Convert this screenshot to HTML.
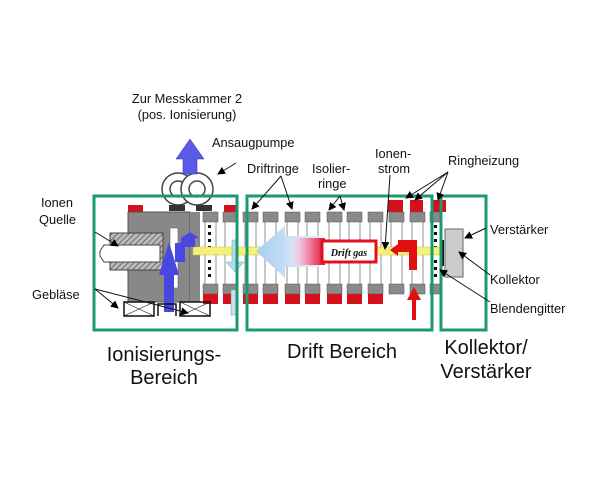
<!DOCTYPE html>
<html><head><meta charset="utf-8"><style>
html,body{margin:0;padding:0;background:#fff}
svg{display:block}
text{font-family:"Liberation Sans",sans-serif;fill:#111}
</style></head><body>
<svg width="605" height="503" viewBox="0 0 605 503" xmlns="http://www.w3.org/2000/svg">
<defs>
<pattern id="h" width="4" height="4" patternUnits="userSpaceOnUse" patternTransform="rotate(45)">
<rect width="4" height="4" fill="#bbb"/><line x1="0" y1="0" x2="0" y2="4" stroke="#555" stroke-width="1.5"/></pattern>
<linearGradient id="rg" x1="0" x2="1"><stop offset="0" stop-color="#fff" stop-opacity="0"/><stop offset="0.5" stop-color="#f2a0c0"/><stop offset="1" stop-color="#e01030"/></linearGradient>
<linearGradient id="bg" x1="0" x2="1"><stop offset="0" stop-color="#a8cdf0"/><stop offset="1" stop-color="#e4f0fb"/></linearGradient>
<marker id="a" markerWidth="8" markerHeight="8" refX="7" refY="4" orient="auto" markerUnits="userSpaceOnUse"><path d="M0,0 L8,4 L0,8 Z" fill="#000"/></marker>
</defs>

<rect x="128" y="205" width="15" height="10" fill="#d4101c"/>
<rect x="224" y="205" width="14" height="10" fill="#d4101c"/>
<rect x="388" y="200" width="15" height="12" fill="#d4101c"/>
<rect x="410" y="200" width="13" height="12" fill="#d4101c"/>
<rect x="433" y="200" width="13" height="12" fill="#d4101c"/>

<rect x="128" y="212" width="62" height="90" fill="#888" stroke="#555"/>
<rect x="190" y="212" width="10" height="90" fill="#888"/>
<rect x="170" y="228" width="8" height="60" fill="#fff" stroke="#555" stroke-width="0.5"/>
<rect x="110" y="233" width="53" height="37" fill="url(#h)" stroke="#444"/>
<path d="M104,245 L160,245 L160,262 L104,262 L100,256 L100,251 Z" fill="#fff" stroke="#444"/>
<circle cx="178" cy="189" r="16" fill="#fff" stroke="#444" stroke-width="1.5"/>
<circle cx="178" cy="189" r="8" fill="none" stroke="#444" stroke-width="1.5"/>
<circle cx="197" cy="189" r="16" fill="#fff" stroke="#444" stroke-width="1.5"/>
<circle cx="197" cy="189" r="8" fill="none" stroke="#444" stroke-width="1.5"/>
<rect x="169" y="205" width="16" height="6" fill="#333"/>
<rect x="196" y="205" width="16" height="6" fill="#333"/>
<path d="M183,174 L183,159 L176,159 L190,139 L204,159 L197,159 L197,174 Z" fill="#5a5ae8" stroke="#3030a0" stroke-width="0.5"/>

<g fill="#8a8a8a" stroke="#555" stroke-width="0.5">
<rect x="203" y="212" width="15" height="10"/><rect x="223" y="212" width="15" height="10"/>
<rect x="243" y="212" width="15" height="10"/><rect x="263" y="212" width="15" height="10"/>
<rect x="285" y="212" width="15" height="10"/><rect x="305" y="212" width="15" height="10"/>
<rect x="327" y="212" width="15" height="10"/><rect x="347" y="212" width="15" height="10"/>
<rect x="368" y="212" width="15" height="10"/><rect x="389" y="212" width="15" height="10"/>
<rect x="410" y="212" width="15" height="10"/><rect x="430" y="212" width="12" height="10"/>
<rect x="203" y="284" width="15" height="10"/><rect x="223" y="284" width="15" height="10"/>
<rect x="243" y="284" width="15" height="10"/><rect x="263" y="284" width="15" height="10"/>
<rect x="285" y="284" width="15" height="10"/><rect x="305" y="284" width="15" height="10"/>
<rect x="327" y="284" width="15" height="10"/><rect x="347" y="284" width="15" height="10"/>
<rect x="368" y="284" width="15" height="10"/><rect x="389" y="284" width="15" height="10"/>
<rect x="410" y="284" width="15" height="10"/><rect x="430" y="284" width="12" height="10"/>
</g>
<g stroke="#777" stroke-width="0.8">
<line x1="205" y1="222" x2="205" y2="284"/><line x1="216" y1="222" x2="216" y2="284"/>
<line x1="225" y1="222" x2="225" y2="284"/><line x1="236" y1="222" x2="236" y2="284"/>
<line x1="245" y1="222" x2="245" y2="284"/><line x1="256" y1="222" x2="256" y2="284"/>
<line x1="265" y1="222" x2="265" y2="284"/><line x1="276" y1="222" x2="276" y2="284"/>
<line x1="287" y1="222" x2="287" y2="284"/><line x1="298" y1="222" x2="298" y2="284"/>
<line x1="307" y1="222" x2="307" y2="284"/><line x1="318" y1="222" x2="318" y2="284"/>
<line x1="329" y1="222" x2="329" y2="284"/><line x1="340" y1="222" x2="340" y2="284"/>
<line x1="349" y1="222" x2="349" y2="284"/><line x1="360" y1="222" x2="360" y2="284"/>
<line x1="370" y1="222" x2="370" y2="284"/><line x1="381" y1="222" x2="381" y2="284"/>
<line x1="391" y1="222" x2="391" y2="284"/><line x1="402" y1="222" x2="402" y2="284"/>
<line x1="412" y1="222" x2="412" y2="284"/><line x1="423" y1="222" x2="423" y2="284"/>
</g>
<g fill="#d4101c">
<rect x="203" y="294" width="15" height="10"/><rect x="223" y="294" width="15" height="10"/>
<rect x="243" y="294" width="15" height="10"/><rect x="263" y="294" width="15" height="10"/>
<rect x="285" y="294" width="15" height="10"/><rect x="305" y="294" width="15" height="10"/>
<rect x="327" y="294" width="15" height="10"/><rect x="347" y="294" width="15" height="10"/>
<rect x="368" y="294" width="15" height="10"/>
</g>
<g fill="#111">
<rect x="208" y="225" width="3" height="3"/><rect x="208" y="232" width="3" height="3"/><rect x="208" y="239" width="3" height="3"/><rect x="208" y="246" width="3" height="3"/><rect x="208" y="260" width="3" height="3"/><rect x="208" y="267" width="3" height="3"/><rect x="208" y="274" width="3" height="3"/>
<rect x="434" y="225" width="3" height="3"/><rect x="434" y="232" width="3" height="3"/><rect x="434" y="239" width="3" height="3"/><rect x="434" y="246" width="3" height="3"/><rect x="434" y="260" width="3" height="3"/><rect x="434" y="267" width="3" height="3"/><rect x="434" y="274" width="3" height="3"/>
</g>
<rect x="193" y="247" width="250" height="8" fill="#f4f07a" stroke="#c8c040" stroke-width="0.5"/>
<path d="M320,236 L285,236 L285,226 L256,251 L285,278 L285,267 L320,267 Z" fill="url(#bg)"/>
<rect x="285" y="238" width="40" height="27" fill="url(#rg)"/>
<rect x="322" y="241" width="54" height="21" fill="#fff" stroke="#e01020" stroke-width="3"/>
<text x="349" y="256" font-size="10" font-style="italic" font-weight="bold" text-anchor="middle" style="font-family:'Liberation Serif',serif">Drift gas</text>
<path d="M232,240 L238,240 L238,262 L244,262 L235,272 L226,262 L232,262 Z" fill="#b8d6f0" stroke="#7aa" stroke-width="0.5"/>
<rect x="231" y="290" width="5" height="25" fill="#c8dff0" stroke="#888" stroke-width="0.5"/>
<rect x="164" y="262" width="10" height="50" fill="#4848e0"/>
<path d="M159,275 L169,242 L179,275 Z" fill="#4848e0"/>
<path d="M175,262 L175,243 L181,243 L181,238 L190,232 L199,238 L195,238 L195,247 L185,247 L185,262 Z" fill="#4848e0"/>
<g stroke="#111" stroke-width="1.5" fill="none">
<rect x="124" y="302" width="30" height="14"/><path d="M124,302 L154,316 M154,302 L124,316" stroke-width="0.6"/>
<rect x="180" y="302" width="30" height="14"/><path d="M180,302 L210,316 M210,302 L180,316" stroke-width="0.6"/>
<path d="M158,316 L158,304 L176,304 L176,316"/>
</g>
<path d="M417,240 L417,270 L409,270 L409,252 L398,252 L398,256 L390,250 L398,244 L398,240 Z" fill="#e01010"/>
<path d="M412,320 L412,300 L407,300 L414,287 L421,300 L416,300 L416,320 Z" fill="#e01010"/>
<rect x="440" y="240" width="4" height="26" fill="#111"/>
<rect x="445" y="229" width="18" height="48" fill="#ccc" stroke="#666"/>

<g fill="none" stroke="#1a9a70" stroke-width="3">
<rect x="94" y="196" width="143" height="134"/>
<rect x="247" y="196" width="185" height="134"/>
<rect x="441" y="196" width="45" height="134"/>
</g>

<g stroke="#111" stroke-width="1" marker-end="url(#a)">
<line x1="95" y1="232" x2="118" y2="246"/>
<line x1="95" y1="289" x2="118" y2="308"/>
<line x1="95" y1="289" x2="188" y2="313"/>
<line x1="236" y1="163" x2="218" y2="174"/>
<line x1="281" y1="176" x2="252" y2="209"/>
<line x1="281" y1="176" x2="292" y2="209"/>
<line x1="340" y1="196" x2="329" y2="210"/>
<line x1="340" y1="196" x2="344" y2="210"/>
<line x1="390" y1="175" x2="385" y2="249"/>
<line x1="448" y1="172" x2="415" y2="200"/>
<line x1="448" y1="172" x2="438" y2="200"/>
<line x1="448" y1="172" x2="406" y2="198"/>
<line x1="486" y1="228" x2="465" y2="238"/>
<line x1="490" y1="275" x2="459" y2="252"/>
<line x1="490" y1="302" x2="440" y2="270"/>
</g>

<g font-size="12.8">
<text x="187" y="103" text-anchor="middle">Zur Messkammer 2</text>
<text x="187" y="119" text-anchor="middle">(pos. Ionisierung)</text>
<text x="212" y="147">Ansaugpumpe</text>
<text x="247" y="173">Driftringe</text>
<text x="312" y="173">Isolier-</text>
<text x="318" y="188">ringe</text>
<text x="375" y="158">Ionen-</text>
<text x="378" y="173">strom</text>
<text x="448" y="165">Ringheizung</text>
<text x="41" y="207">Ionen</text>
<text x="39" y="224">Quelle</text>
<text x="32" y="299">Gebläse</text>
<text x="490" y="234">Verstärker</text>
<text x="490" y="284">Kollektor</text>
<text x="490" y="313">Blendengitter</text>
</g>
<g font-size="20">
<text x="164" y="361" text-anchor="middle">Ionisierungs-</text>
<text x="164" y="384" text-anchor="middle">Bereich</text>
<text x="342" y="358" text-anchor="middle">Drift Bereich</text>
<text x="486" y="354" text-anchor="middle">Kollektor/</text>
<text x="486" y="378" text-anchor="middle">Verstärker</text>
</g>
</svg>
</body></html>
